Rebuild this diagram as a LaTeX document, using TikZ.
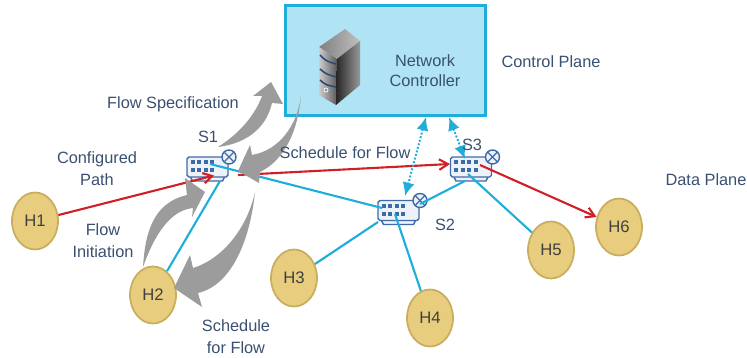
\documentclass[tikz,border=0pt]{standalone}
\usepackage{fontspec}
\setmainfont{Liberation Sans}
\usetikzlibrary{arrows.meta,shapes.geometric}
\definecolor{boxblue}{HTML}{B0E4F4}
\definecolor{linkblue}{HTML}{1FADDC}
\definecolor{hostfill}{HTML}{E8CD7E}
\definecolor{hostedge}{HTML}{C9AE5F}
\definecolor{labelblue}{HTML}{3A5070}
\definecolor{switchblue}{HTML}{3F6AA8}
\definecolor{switchfill}{HTML}{EDF2F9}
\definecolor{redpath}{HTML}{CF2027}
\definecolor{flowgrey}{HTML}{9C9C9C}
\begin{document}
\begin{tikzpicture}
[x=0.02cm,y=-0.02cm,
  hostdecorate/.style={shape=ellipse,draw=hostedge,fill=hostfill,line width=1pt,
    minimum width=0.92cm,minimum height=1.14cm,inner sep=0pt,text=black!75,font=\fontsize{9.5}{11}\selectfont},
  switchdecorate/.style={shape=rectangle,draw=switchblue,fill=switchfill,line width=0.8pt,rounded corners=1pt,
    minimum width=0.82cm,minimum height=0.4cm,inner sep=0pt},
  textdecorate/.style={text=labelblue,align=center,inner sep=0pt,font=\fontsize{9.3}{12.5}\selectfont},
  redlinedecorate/.style={-{Straight Barb[length=5pt,width=6pt]},redpath,line width=1.2pt},
  bluelinedecorate/.style={-,linkblue,line width=1.2pt},
  dotdecorate/.style={{Latex[length=0.27cm,width=0.24cm]}-{Latex[length=0.27cm,width=0.24cm]},linkblue,line width=1.1pt,densely dotted},
  flowdecorate/.style={fill=flowgrey,draw=none}]
\useasboundingbox (0,0) rectangle (747,358);
%%% control plane
% controller box
\node (NC) at (385.5,60.5) [shape=rectangle,draw=linkblue,fill=boxblue,line width=1.2pt,
  minimum width=4cm,minimum height=2.2cm,inner sep=0pt] {};
% server tower
\shade[left color=black!50,right color=black!25] (319,47) -- (345,29) -- (360,41) -- (337,59) -- cycle;
\shade[left color=black!20,right color=black!65] (319,47) -- (337,59) -- (336,105) -- (319,95) -- cycle;
\shade[left color=black!85,right color=black!40] (337,59) -- (360,41) -- (360,85) -- (336,105) -- cycle;
\draw[switchblue!70!black,line width=0.9pt] (320,55) .. controls (326,61) .. (336,64)
  (320,69) .. controls (326,74) .. (336,77)
  (320,80) .. controls (326,85) .. (336,87);
\draw[white,fill=switchblue!70] (326,90) circle (2);
%
%%% switches
\foreach \name/\x/\y in {S1/207.5/167,S2/398.5/210.5,S3/471/167}{
  \begin{scope}[shift={(\x,\y)}]
  \draw[switchblue,fill=switchfill,line width=0.8pt] (-17,10) -- (-15,14) -- (15,14) -- (17,10);
  \node (\name) at (0,0) [switchdecorate] {};
  \foreach \dx in {-15,-8.5,-2,4.5}
    \foreach \dy in {-5,3}
      \fill[switchblue] (\dx-2,\dy-2) rectangle (\dx+2,\dy+2);
  \draw[switchblue,fill=switchfill,line width=0.8pt] (21.5,-10) circle (7);
  \draw[switchblue,line width=0.7pt] (17,-14.5) -- (26,-5.5) (17,-5.5) -- (26,-14.5);
  \end{scope}
}
%
%%% hosts
% nodes or vertices
\node (H1) at (35,221) [hostdecorate] {H1};
\node (H2) at (153,295) [hostdecorate] {H2};
\node (H3) at (294,278) [hostdecorate] {H3};
\node (H4) at (430,318) [hostdecorate] {H4};
\node (H5) at (551,250) [hostdecorate] {H5};
\node (H6) at (619,227) [hostdecorate] {H6};
% free ends of the lines
\coordinate (S1in) at (214,175.5);
\coordinate (S1out) at (238,175);
\coordinate (S3in) at (450,164);
\coordinate (S3out) at (480,165);
\coordinate (S1blue) at (210,164);
\coordinate (S1low) at (220,181);
\coordinate (S2blue) at (382,208);
\coordinate (S2top) at (405,196);
\coordinate (S3top) at (465,159);
\coordinate (S2a) at (378,222);
\coordinate (S2b) at (395,214);
\coordinate (S2c) at (420,204);
\coordinate (S3a) at (465,181);
\coordinate (S3b) at (468,174);
\coordinate (NCa) at (426,117);
\coordinate (NCb) at (449,117);
% edges or lines
\path
(S1blue) edge[bluelinedecorate] (S2blue)
(H2) edge[bluelinedecorate] (S1low)
(H3) edge[bluelinedecorate] (S2a)
(H4) edge[bluelinedecorate] (S2b)
(S2c) edge[bluelinedecorate] (S3a)
(H5) edge[bluelinedecorate] (S3b)
(H1) edge[redlinedecorate] (S1in)
(S1out) edge[redlinedecorate] (S3in)
(S3out) edge[redlinedecorate] (H6)
(NCa) edge[dotdecorate] (S2top)
(NCb) edge[dotdecorate] (S3top);
%
%%% grey flow arrows
\path[flowdecorate] (218,147) .. controls (240,133) and (255,115) .. (262,96) -- (253,96) -- (271,82) -- (283,104)
  -- (272,103) .. controls (267,125) and (250,143) .. (218,147) -- cycle;
\path[flowdecorate] (301,96) .. controls (297,125) and (280,150) .. (252,155) -- (250,145) -- (238,171) -- (259,183)
  -- (260,172) .. controls (285,160) and (298,130) .. (301,96) -- cycle;
\path[flowdecorate] (143,267) .. controls (145,235) and (152,203) .. (187,195) -- (185,178) -- (205,192) -- (192,217)
  -- (193,208) .. controls (175,210) and (158,225) .. (143,267) -- cycle;
\path[flowdecorate] (255,192) .. controls (248,225) and (225,258) .. (193,268) -- (190,255) -- (174,288) -- (202,307)
  -- (198,293) .. controls (232,285) and (250,240) .. (255,192) -- cycle;
%
%%% labels
\node (ncl) at (425,71) [textdecorate] {Network\\[-1pt]Controller};
\node (cpl) at (551,62) [textdecorate] {Control Plane};
\node (dpl) at (706,180) [textdecorate] {Data Plane};
\node (fsl) at (173,104) [textdecorate] {Flow Specification};
\node (s1l) at (208,137) [textdecorate] {S1};
\node (s2l) at (445,225) [textdecorate] {S2};
\node (s3l) at (472,145) [textdecorate] {S3};
\node (sfl) at (345,153) [textdecorate] {Schedule for Flow};
\node (cpa) at (97,169) [textdecorate] {Configured\\Path};
\node (fil) at (103,241) [textdecorate] {Flow\\Initiation};
\node (sfb) at (236,337) [textdecorate] {Schedule\\for Flow};
\end{tikzpicture}
\end{document}
